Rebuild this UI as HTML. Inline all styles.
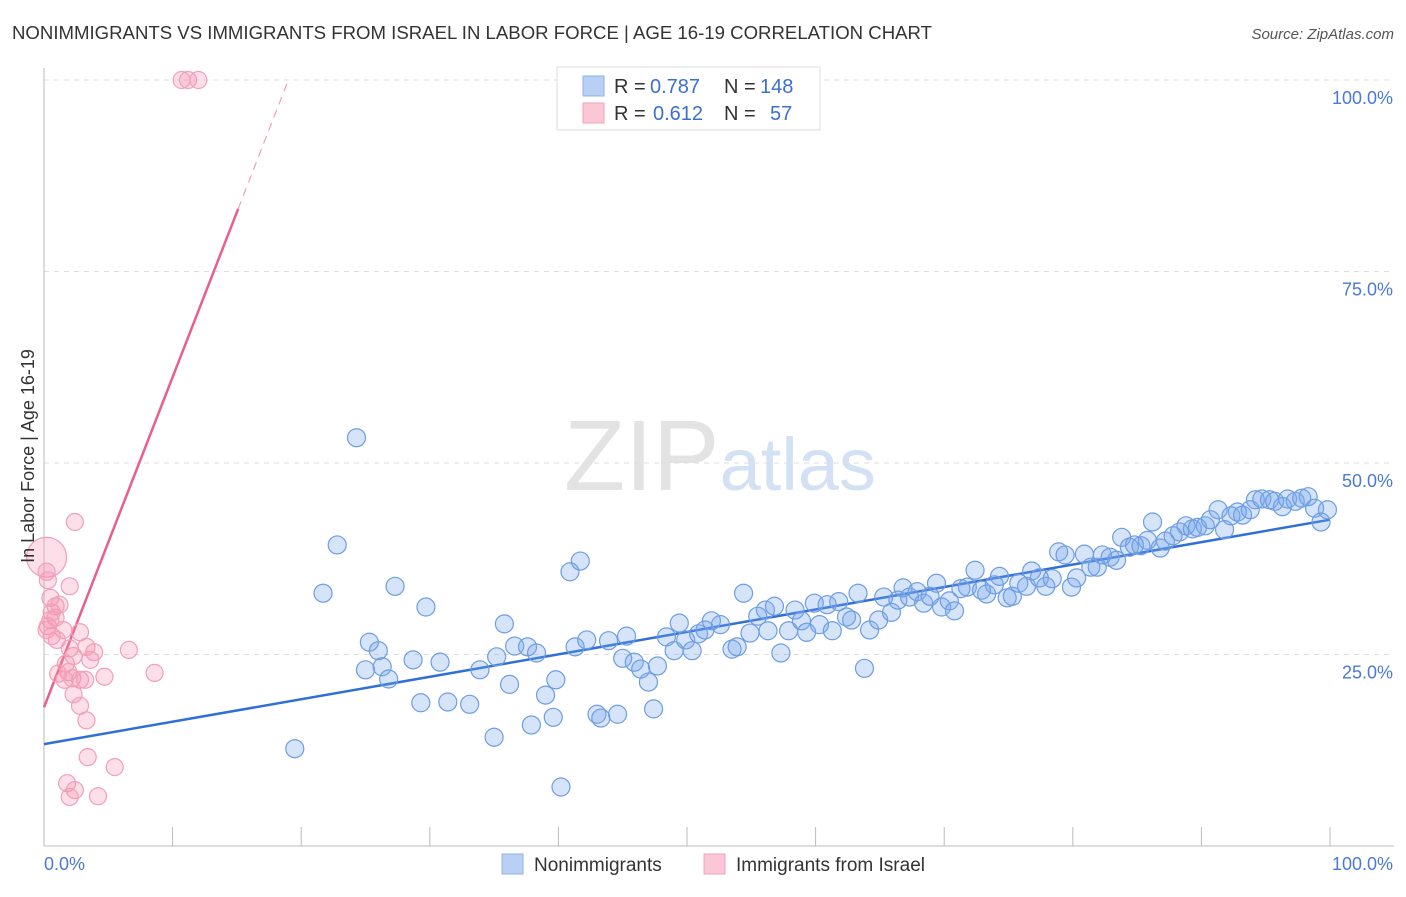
<!DOCTYPE html>
<html><head><meta charset="utf-8"><style>
body{margin:0;background:#fff;font-family:"Liberation Sans",sans-serif}
svg text{font-family:"Liberation Sans",sans-serif}
</style></head><body>
<svg id="chart" width="1406" height="892" xmlns="http://www.w3.org/2000/svg">
<text x="12" y="39" font-size="18" fill="#333" textLength="920" lengthAdjust="spacingAndGlyphs">NONIMMIGRANTS VS IMMIGRANTS FROM ISRAEL IN LABOR FORCE | AGE 16-19 CORRELATION CHART</text>
<text x="1394" y="39" font-size="15" fill="#555" text-anchor="end" font-style="italic">Source: ZipAtlas.com</text>
<text x="720" y="490" font-size="100" text-anchor="middle" fill="#e3e3e3" font-family="Liberation Serif">ZIP<tspan fill="#d3e1f5" font-family="Liberation Sans" font-size="74">atlas</tspan></text>
<g id="grid"></g><g id="axes"></g><g id="lines"></g><g id="pts"></g>
<text transform="translate(34,456) rotate(-90)" font-size="18" fill="#333" text-anchor="middle">In Labor Force | Age 16-19</text>
<g>
<rect x="557" y="67" width="263" height="63" fill="#fff" stroke="#ddd"/>
<rect x="583" y="76" width="21" height="20" fill="#b8d0f4" stroke="#8fb2e8"/>
<rect x="583" y="103" width="21" height="20" fill="#fbc6d5" stroke="#f2a3ba"/>
<text x="614" y="93" font-size="20" fill="#333">R =</text>
<text x="650" y="93" font-size="20" fill="#3a70d0">0.787</text>
<text x="724" y="93" font-size="20" fill="#333">N =</text>
<text x="760" y="93" font-size="20" fill="#3a70d0">148</text>
<text x="614" y="120" font-size="20" fill="#333">R =</text>
<text x="653" y="120" font-size="20" fill="#3a70d0">0.612</text>
<text x="724" y="120" font-size="20" fill="#333">N =</text>
<text x="770" y="120" font-size="20" fill="#3a70d0">57</text>
</g>
<g>
<rect x="502" y="854" width="21" height="20" fill="#b8d0f4" stroke="#8fb2e8"/>
<text x="534" y="871" font-size="19" fill="#333">Nonimmigrants</text>
<rect x="704" y="854" width="21" height="20" fill="#fbc6d5" stroke="#f2a3ba"/>
<text x="736" y="871" font-size="19" fill="#333">Immigrants from Israel</text>
</g>
</svg>
<script>
const blueX=[24.3,22.8,21.7,19.5,27.3,29.7,25.3,26,25,26.3,26.8,28.7,29.3,30.8,31.4,33.1,33.9,35,35.2,35.8,36.2,36.6,37.6,37.9,38.3,39,39.6,39.8,40.2,40.9,41.7,41.3,42.2,43,43.3,43.9,44.6,45,45.3,45.9,46.4,47,47.4,47.7,48.4,49,49.4,49.9,50.4,50.9,51.4,51.9,52.6,53.5,53.9,54.4,54.9,55.5,56.1,56.3,56.8,57.3,57.9,58.4,58.9,59.3,59.9,60.3,60.9,61.3,61.8,62.4,62.8,63.3,63.8,64.2,64.9,65.3,65.9,66.4,66.8,67.3,67.9,68.4,68.9,69.4,69.8,70.4,70.8,71.3,71.8,72.4,72.9,73.3,73.9,74.3,74.9,75.3,75.8,76.4,76.8,77.4,77.9,78.4,78.9,79.4,79.9,80.3,80.9,81.4,81.9,82.3,82.9,83.4,83.8,84.4,84.8,85.3,85.8,86.2,86.8,87.2,87.8,88.3,88.8,89.3,89.7,90.3,90.7,91.3,91.8,92.3,92.8,93.2,93.8,94.2,94.7,95.3,95.7,96.3,96.7,97.3,97.8,98.3,98.8,99.3,99.8];
const blueY=[53.3,39.3,33,12.7,33.9,31.2,26.6,25.5,23,23.4,21.8,24.3,18.7,24,18.8,18.5,23,14.2,24.7,29,21.1,26.1,26,15.8,25.2,19.7,16.8,21.7,7.7,35.8,37.2,26,26.9,17.2,16.7,26.8,17.2,24.5,27.4,24,23.1,21.4,17.9,23.5,27.3,25.5,29.1,26.9,25.5,27.7,28.2,29.4,28.9,25.7,26,33,27.8,30,30.8,28.1,31.3,25.2,28.1,30.8,29.4,27.9,31.7,28.9,31.5,28.1,31.9,29.9,29.5,33,23.2,28.2,29.5,32.5,30.5,32.1,33.7,32.5,33.2,31.7,32.6,34.3,31.2,32,30.7,33.6,33.8,36,33.4,32.9,34.1,35.2,32.4,32.6,34.3,33.9,35.9,35,33.9,34.9,38.4,38,33.8,35,38.1,36.4,36.4,38,37.7,37.3,40.3,39,39.3,39.2,39.9,42.3,38.9,39.8,40.5,41,41.8,41.4,41.6,41.8,42.6,43.9,41.3,43.1,43.6,43.2,43.9,45.2,45.3,45.2,45,44.3,45.3,45,45.4,45.6,44.1,42.3,43.9];
const pinkX=[10.7,11.2,12,2.4,0.2,0.2,0.3,2,0.5,0.9,1.2,0.6,0.9,0.3,1.5,2.8,0.6,1,2,3.3,3.9,6.6,2.3,3.6,1.7,1.9,1.1,1.6,2.2,2.8,3.2,4.7,8.6,2.3,2.8,3.3,3.4,5.5,1.8,2.4,2,4.2,0.5,0.2];
const pinkY=[100,100,100,42.3,37.7,35.8,34.7,33.9,32.4,31.3,31.5,30.5,29.8,28.7,28.2,27.9,27.4,26.9,25.8,26,25.3,25.6,24.8,24.3,23.8,22.7,22.5,21.7,21.9,21.7,21.7,22.1,22.6,19.8,18.3,16.4,11.6,10.3,8.2,7.3,6.4,6.5,29.5,28.2];
const blueLine=[13.3,42.6];           // y at x=0, x=100
const pinkLine=[18.1,15.1,19.0];      // intercept, solid end x, dashed end x
const yTicks=[25,50,75,100];
const yTickLabels=["25.0%","50.0%","75.0%","100.0%"];
const xTicks=[0,10,20,30,40,50,60,70,80,90,100];
const NS="http://www.w3.org/2000/svg";
const X=v=>44+v*12.86, Y=v=>846-v*7.66;
function mk(p,t,a){const e=document.createElementNS(NS,t);for(const k in a)e.setAttribute(k,a[k]);document.getElementById(p).appendChild(e);return e;}
yTicks.forEach((t,i)=>{
 let g=mk('grid','line',{x1:44,x2:1394,y1:Y(t),y2:Y(t),stroke:'#ddd','stroke-dasharray':'5,5'});
 
 
 let tx=mk('axes','text',{x:1393,y:Y(t)+24,'font-size':18,fill:'#4a7ad4','text-anchor':'end'});tx.textContent=yTickLabels[i];
 
 
});
let ax=mk('axes','line',{x1:44,x2:1394,y1:846,y2:846,stroke:'#bbb'});


let ay=mk('axes','line',{x1:44,x2:44,y1:68,y2:846,stroke:'#bbb'});


xTicks.forEach(t=>{let l=mk('axes','line',{x1:X(t),x2:X(t),y1:827,y2:846,stroke:'#bbb'});
 
 });
let x0=mk('axes','text',{x:44,y:870,'font-size':18,fill:'#4a7ad4'});x0.textContent="0.0%";


let x1=mk('axes','text',{x:1393,y:870,'font-size':18,fill:'#4a7ad4','text-anchor':'end'});x1.textContent="100.0%";


blueX.forEach((v,i)=>{let c=mk('pts','circle',{cx:X(v),cy:Y(blueY[i]),r:9,fill:'rgba(120,165,235,0.3)',stroke:'#6d9de2','stroke-width':1.2});
 
 });
pinkX.forEach((v,i)=>{let c=mk('pts','circle',{cx:X(v),cy:Y(pinkY[i]),r:(i==4?20:8.5),fill:'rgba(245,150,180,0.3)',stroke:'#f0a0b8','stroke-width':1.2});
 
 });
let bl=mk('lines','line',{x1:X(0),y1:Y(blueLine[0]),x2:X(100),y2:Y(blueLine[1]),stroke:'#2f6fd8','stroke-width':2.5});


const ps=(100-pinkLine[0])/pinkLine[2];
let pl=mk('lines','line',{x1:X(0),y1:Y(pinkLine[0]),x2:X(pinkLine[1]),y2:Y(pinkLine[0]+ps*pinkLine[1]),stroke:'#e8608a','stroke-width':2.5});


let pd=mk('lines','line',{x1:X(pinkLine[1]),y1:Y(pinkLine[0]+ps*pinkLine[1]),x2:X(pinkLine[2]),y2:Y(100),stroke:'#f0a0b8','stroke-width':1.2,'stroke-dasharray':'8,6'});


</script>
</body></html>
